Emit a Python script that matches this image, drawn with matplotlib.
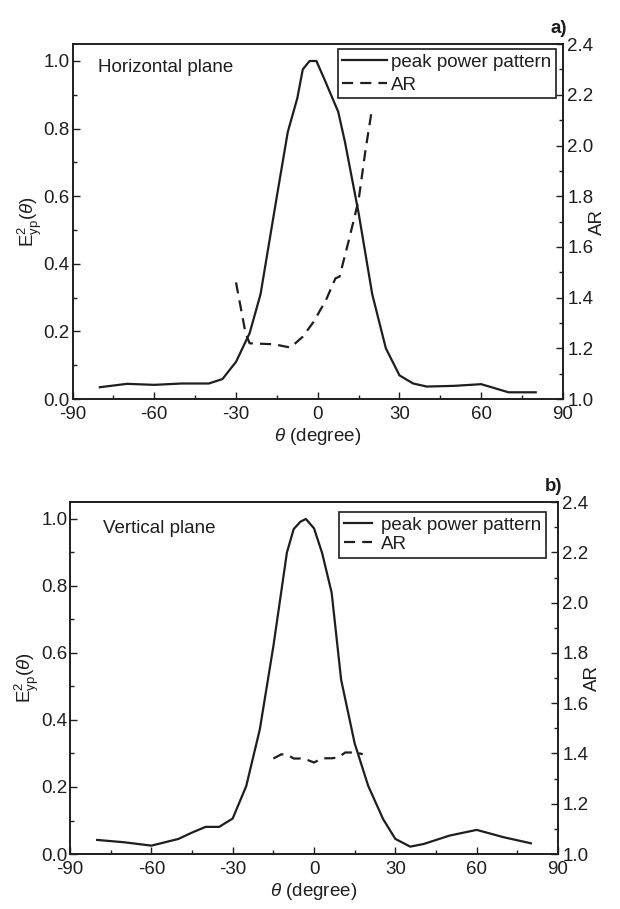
import matplotlib
matplotlib.use("Agg")
import matplotlib.pyplot as plt
from matplotlib.ticker import MultipleLocator, FormatStrFormatter

plt.rcParams['font.family'] = ['Liberation Sans', 'DejaVu Sans']
plt.rcParams['mathtext.fontset'] = 'custom'
plt.rcParams['mathtext.rm'] = 'Liberation Sans'
plt.rcParams['mathtext.it'] = 'Liberation Sans:italic'
plt.rcParams['axes.unicode_minus'] = False

# ---- Panel a) Horizontal plane ----
theta_h = [-80, -70, -60, -50, -40, -35, -30, -25, -21, -15, -11, -7.5, -5.5, -3, -0.5,
           2.5, 7.5, 10, 15, 17.5, 20, 25, 30, 35, 40, 50, 60, 70, 80]
power_h = [0.035, 0.045, 0.042, 0.046, 0.046, 0.059, 0.11, 0.195, 0.31, 0.60, 0.79, 0.89,
           0.975, 1.0, 1.0, 0.945, 0.85, 0.76, 0.55, 0.43, 0.31, 0.15, 0.07, 0.046, 0.037,
           0.039, 0.044, 0.02, 0.02]
ar_theta_h = [-30, -26.5, -25, -16, -10, -5.5, -1.5, 3, 6.5, 8, 11.5, 15, 17.5, 19.7]
ar_h = [1.46, 1.26, 1.22, 1.216, 1.203, 1.246, 1.305, 1.39, 1.476, 1.483, 1.63, 1.785, 1.98, 2.13]

# ---- Panel b) Vertical plane ----
theta_v = [-80, -70, -60, -50, -45, -40, -35, -30, -25, -20, -15, -10, -7.5, -5, -3, 0,
           3, 6.5, 10, 15, 20, 25.5, 30, 35.5, 40.5, 50, 60, 70, 80]
power_v = [0.042, 0.035, 0.025, 0.045, 0.064, 0.081, 0.081, 0.106, 0.203, 0.372, 0.62, 0.90,
           0.97, 0.992, 1.0, 0.972, 0.898, 0.78, 0.52, 0.33, 0.203, 0.104, 0.045, 0.022,
           0.030, 0.055, 0.072, 0.05, 0.032]
ar_theta_v = [-15, -12, -9.5, -7.5, -5, -3, 0, 3, 6.5, 9, 11.5, 15.5, 18]
ar_v = [1.38, 1.397, 1.393, 1.38, 1.38, 1.377, 1.364, 1.381, 1.381, 1.384, 1.404, 1.404, 1.397]

x_ticks = [-90, -60, -30, 0, 30, 60, 90]

fig = plt.figure(figsize=(6.2, 9.09), dpi=100)
ink = '#1e1e1e'
FS = 13.5


def style_axis(a):
    a.tick_params(which='both', direction='in', labelsize=FS, colors=ink, width=1.0, pad=3)
    a.tick_params(which='major', length=5)
    a.tick_params(which='minor', length=3)
    for s in a.spines.values():
        s.set_linewidth(1.2)
        s.set_color(ink)


def panel(rect, th, pw, ath, ar, plane_text, text_xy, tag, legend_anchor, legend_hl,
          legend_pad, legend_spacing):
    ax = fig.add_axes(rect)
    l1, = ax.plot(th, pw, color=ink, lw=1.6, label='peak power pattern')
    ax.set_xlim(-90, 90)
    ax.set_ylim(0, 1.05)
    ax.set_xticks(x_ticks)
    ax.xaxis.set_minor_locator(MultipleLocator(15))
    ax.yaxis.set_major_locator(MultipleLocator(0.2))
    ax.yaxis.set_minor_locator(MultipleLocator(0.1))
    ax.yaxis.set_major_formatter(FormatStrFormatter('%.1f'))
    style_axis(ax)
    ax.tick_params(top=False, right=False)
    ax.tick_params(axis='x', pad=5)
    ax.tick_params(axis='y', pad=2)
    ax.set_xlabel(r'$\mathit{\theta}$ (degree)', fontsize=FS, color=ink, labelpad=2)
    ax.set_ylabel(r'E$^2_{\mathrm{yp}}$($\mathit{\theta}$)', fontsize=FS, color=ink, labelpad=0)
    ax.text(text_xy[0], text_xy[1], plane_text, transform=ax.transAxes, fontsize=FS,
            color=ink, va='center')

    ax2 = ax.twinx()
    l2, = ax2.plot(ath, ar, color=ink, lw=1.6, linestyle=(0, (5, 3.2)), label='AR')
    ax2.set_ylim(1.0, 2.4)
    ax2.yaxis.set_major_locator(MultipleLocator(0.2))
    ax2.yaxis.set_minor_locator(MultipleLocator(0.1))
    ax2.yaxis.set_major_formatter(FormatStrFormatter('%.1f'))
    style_axis(ax2)
    ax2.tick_params(axis='y', pad=3)
    ax2.set_ylabel('AR', fontsize=FS, color=ink, labelpad=-3)

    leg = ax.legend(handles=[l1, l2], loc='upper right', bbox_to_anchor=legend_anchor,
                    bbox_transform=ax.transAxes, borderaxespad=0,
                    fontsize=FS, frameon=True, fancybox=False, handlelength=legend_hl,
                    handletextpad=legend_pad, borderpad=0.25, labelspacing=legend_spacing)
    leg.get_frame().set_edgecolor(ink)
    leg.get_frame().set_linewidth(1.2)
    leg.get_frame().set_alpha(1)
    for t in leg.get_texts():
        t.set_color(ink)
    ax.set_zorder(ax2.get_zorder() + 1)
    ax.patch.set_visible(False)
    ax.text(1.008, 1.045, tag, transform=ax.transAxes, fontsize=FS, fontweight='bold',
            color=ink, ha='right', va='center')
    return ax


panel([0.117, 0.561, 0.791, 0.3905], theta_h, power_h, ar_theta_h, ar_h,
      'Horizontal plane', (0.052, 0.935), 'a)', (0.986, 0.986), 2.4, 0.2, 0.3)
panel([0.113, 0.0605, 0.787, 0.387], theta_v, power_v, ar_theta_v, ar_v,
      'Vertical plane', (0.067, 0.926), 'b)', (0.976, 0.972), 1.5, 0.5, 0.1)

fig.savefig('out.png', dpi=100, facecolor='white')
